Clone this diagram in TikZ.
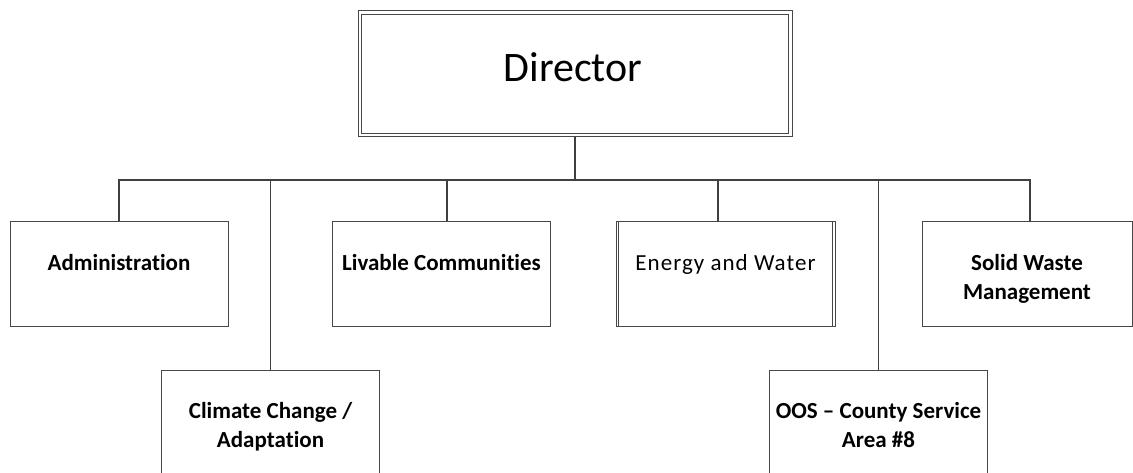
\documentclass[tikz,border=0pt]{standalone}
\usepackage{fontspec}
\setmainfont{Carlito}[Ligatures=NoCommon]
\begin{document}
\begin{tikzpicture}[x=1pt,y=-1pt,
  unitbox/.style={draw=black!72, line width=1pt, rectangle, inner sep=0pt,
    minimum width=218pt, minimum height=105pt},
  headbox/.style={draw=black!72, line width=0.9pt, rectangle, inner sep=0pt,
    minimum width=434pt, minimum height=126pt},
  frame/.style={draw=black!72, line width=0.8pt},
  conn/.style={draw=black!75, line width=1.5pt},
  unittext/.style={font=\bfseries\fontsize{23}{29}\selectfont, align=center, anchor=base, inner sep=0pt},
  plaintext/.style={font=\fontsize{23}{29}\selectfont\addfontfeatures{LetterSpace=4.5}, align=center, anchor=base, inner sep=0pt},
  headtext/.style={font=\fontsize{42}{50}\selectfont, anchor=base, inner sep=0pt}]
\useasboundingbox (0,0) rectangle (1133,473);

% Director, framed by a double rule
\node[headbox] (dir) at (575,73.7) {};
\draw[frame] ([xshift=4pt,yshift=-4pt]dir.north west) rectangle ([xshift=-4pt,yshift=4pt]dir.south east);
\node[headtext] (dirT) at (573,82) {Director};

% first row of units
\node[unitbox] (adm) at (119,274.3) {};
\node[unitbox] (liv) at (441.5,274.3) {};
\node[unitbox, minimum width=219pt] (ew) at (725.5,274.3) {};
\node[unitbox, minimum width=210pt] (sw) at (1027,274.3) {};

% inner rules of the Energy and Water frame
\draw[frame] ([xshift=3pt]ew.north west) -- ([xshift=3pt]ew.south west);
\draw[frame] ([xshift=-3pt]ew.north east) -- ([xshift=-3pt]ew.south east);

% second row of units
\node[unitbox] (cc) at (270.5,422.5) {};
\node[unitbox] (oos) at (878.5,422.5) {};

% labels (multi-line labels sit on the baseline of their last line)
\node[unittext] (admT) at (119,270) {Administration};
\node[unittext] (livT) at (441.5,270) {Livable Communities};
\node[plaintext] (ewT) at (725.5,270) {Energy and Water};
\node[unittext] (swT) at (1027,299) {Solid Waste\\Management};
\node[unittext] (ccT) at (270.5,447) {Climate Change /\\Adaptation};
\node[unittext] (oosT) at (878.5,447) {OOS -- County Service\\Area \#8};

% connectors
\coordinate (bus) at (574.5,180);
\draw[conn] (dir.south) -- (dir.south |- bus);
\draw[conn] (adm.north) -- (adm.north |- bus) -- ([xshift=3pt]sw.north |- bus) -- ([xshift=3pt]sw.north);
\draw[conn] ([xshift=5.5pt]liv.north) -- ([xshift=5.5pt]liv.north |- bus);
\draw[conn] ([xshift=-7.5pt]ew.north) -- ([xshift=-7.5pt]ew.north |- bus);
\draw[conn] (cc.north) -- (cc.north |- bus);
\draw[conn] (oos.north) -- (oos.north |- bus);
\end{tikzpicture}
\end{document}
